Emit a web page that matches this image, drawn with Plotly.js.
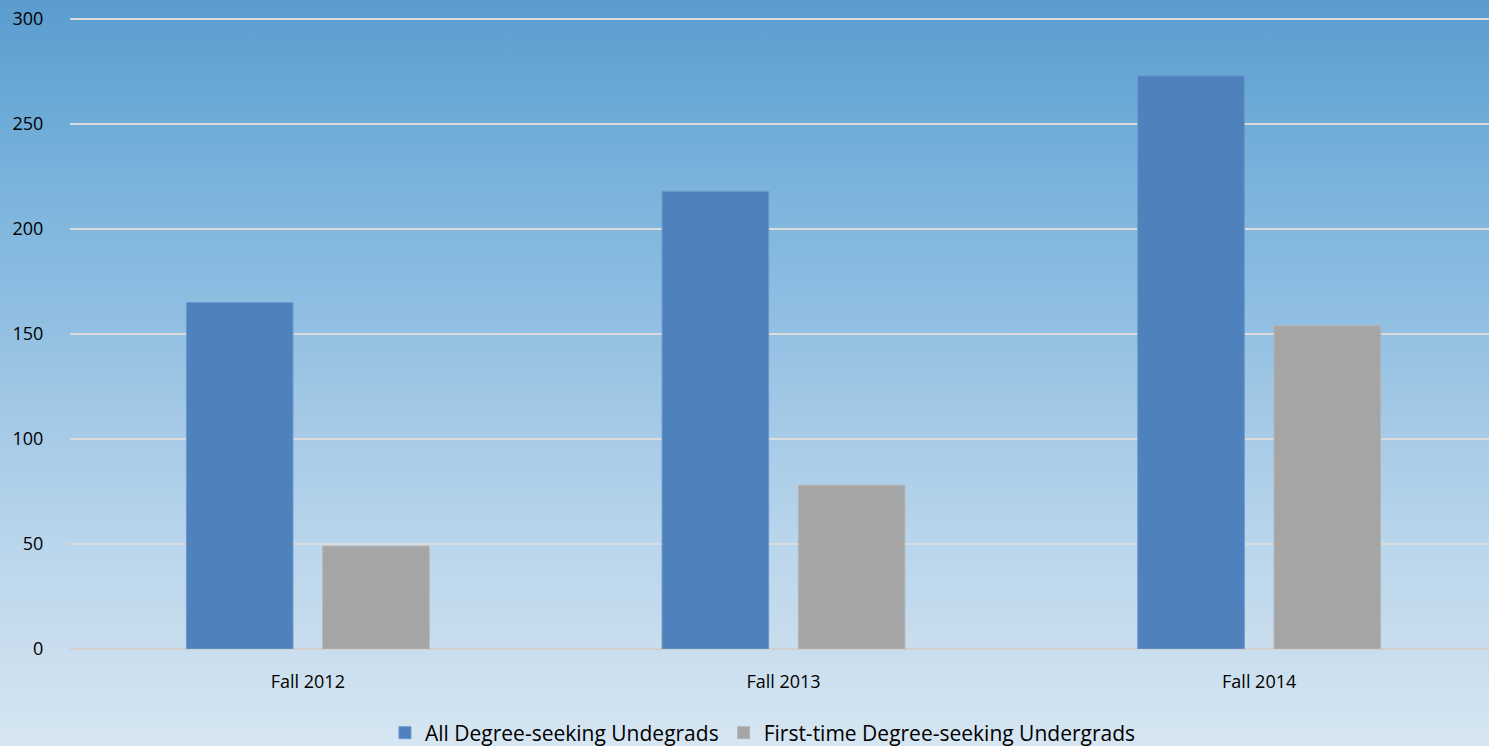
<!DOCTYPE html>
<html><head><meta charset="utf-8">
<script src="https://cdn.plot.ly/plotly-3.0.1.min.js"></script>
<style>
html,body{margin:0;padding:0;overflow:hidden;}
body{width:1489px;height:746px;background:linear-gradient(to bottom,#5b9cd0 0%,#68a8d5 12%,#7cb3dc 25%,#8dbde1 40%,#a2c8e6 55%,#b8d5ec 72%,#c7dced 85%,#d6e6f2 100%);}
#chart{width:1497px;height:746px;}
</style></head>
<body><div id="chart"></div>
<script>
const categories = ["Fall 2012", "Fall 2013", "Fall 2014"];
const allDegree = [165, 218, 273];
const firstTime = [49, 78, 154];
const seriesNames = ["All Degree-seeking Undegrads", "First-time Degree-seeking Undergrads"];
const yTicks = [0, 50, 100, 150, 200, 250, 300];

const font = "Open Sans, Noto Sans, sans-serif";
const traces = [
  {type:"bar", x:categories, y:allDegree, name:seriesNames[0],
   marker:{color:"#4f81bd", line:{color:"#6a98cc", width:1}}},
  {type:"bar", x:categories, y:firstTime, name:seriesNames[1],
   marker:{color:"#a5a5a5", line:{color:"#b5b5b5", width:1}}}
];
const layout = {
  width:1497, height:746,
  paper_bgcolor:"rgba(0,0,0,0)", plot_bgcolor:"rgba(0,0,0,0)",
  margin:{l:70, r:0, t:18, b:97},
  barmode:"group", bargap:0.427, bargroupgap:0.218,
  font:{family:font, size:17, color:"#000"},
  xaxis:{showgrid:false, zeroline:false, showline:false,
    ticks:"outside", ticklen:16, tickcolor:"rgba(0,0,0,0)",
    tickfont:{family:font, size:18, color:"#000"}},
  yaxis:{range:[0,300.5], tickvals:yTicks, showgrid:true, gridcolor:"#dcdcdc", gridwidth:2,
    zeroline:true, zerolinecolor:"#d0d0d0", zerolinewidth:2, showline:false,
    ticks:"outside", ticklen:22, tickcolor:"rgba(0,0,0,0)",
    tickfont:{family:font, size:18, color:"#000"}},
  legend:{orientation:"h", x:0.4856, xanchor:"center", yref:"container", y:0.0174, yanchor:"middle",
    font:{family:font, size:21, color:"#000"}, itemwidth:30, tracegroupgap:0,
    bgcolor:"rgba(0,0,0,0)"},
  showlegend:true
};
Plotly.newPlot("chart", traces, layout, {displayModeBar:false, staticPlot:true});
</script></body></html>
